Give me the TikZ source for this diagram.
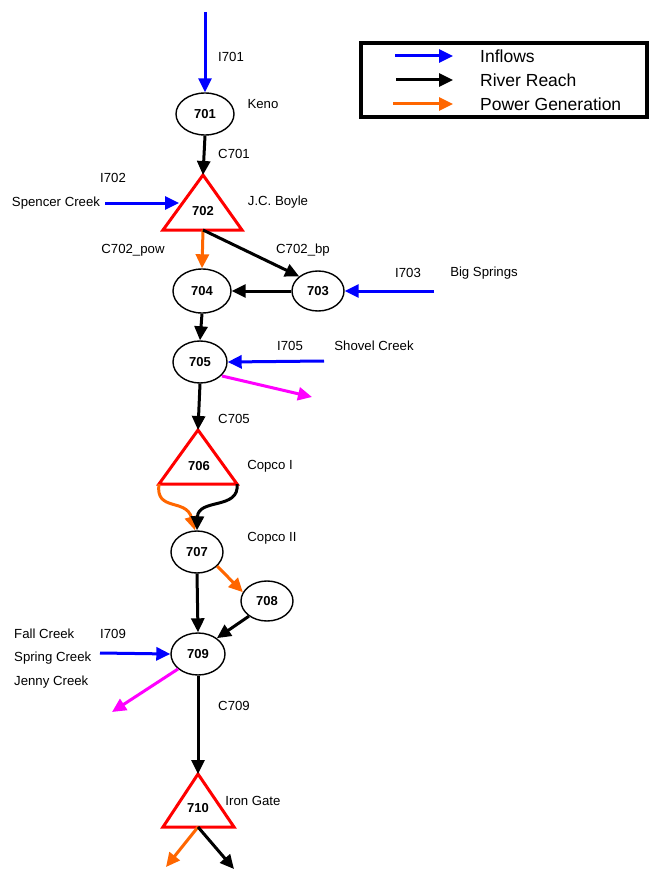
\documentclass[tikz,border=0pt]{standalone}
\usepackage{fontspec}
\setmainfont{Liberation Sans}
\usetikzlibrary{arrows.meta,shapes.geometric}
\definecolor{inblue}{RGB}{0,0,255}
\definecolor{pworange}{RGB}{255,102,0}
\definecolor{magent}{RGB}{255,0,255}
\begin{document}
\begin{tikzpicture}[x=1pt,y=-1pt,
  flow/.style={line width=3pt,-{Triangle[length=14pt,width=13pt]}},
  inflow/.style={flow,draw=inblue},
  reach/.style={flow,draw=black},
  power/.style={flow,draw=pworange},
  spill/.style={flow,draw=magent},
  res/.style={draw,line width=1.4pt,ellipse,inner sep=0pt,font=\fontsize{13}{15}\selectfont\bfseries},
  tri/.style={draw=red,line width=3pt,line join=miter},
  lab/.style={font=\fontsize{13.2}{15}\selectfont,inner sep=0pt},
  leg/.style={font=\fontsize{17.5}{20}\selectfont,inner sep=0pt,anchor=west}]
\useasboundingbox (0,0) rectangle (649,869);
% legend
\node[draw,line width=3.2pt,minimum width=286pt,minimum height=74pt,inner sep=0pt] (legend) at (504,80) {};
\coordinate (lb1) at (395,56); \coordinate (le1) at (453,56);
\coordinate (lb2) at (396,80); \coordinate (le2) at (453,80);
\coordinate (lb3) at (393,104); \coordinate (le3) at (453,104);
\draw[inflow] (lb1) -- (le1);
\draw[reach] (lb2) -- (le2);
\draw[power] (lb3) -- (le3);
\node[leg] (tInflows) at (480,56) {Inflows};
\node[leg] (tRiver) at (480,80) {River Reach};
\node[leg] (tPower) at (480,104) {Power Generation};
% nodes
\node[res,minimum width=58pt,minimum height=42pt] (n701) at (205,114) {701};
\node[res,minimum width=58pt,minimum height=44pt] (n704) at (202,291) {704};
\node[res,minimum width=52pt,minimum height=40pt] (n703) at (318,291) {703};
\node[res,minimum width=54pt,minimum height=42pt] (n705) at (200,362) {705};
\node[res,minimum width=52pt,minimum height=42pt] (n707) at (197,552) {707};
\node[res,minimum width=52pt,minimum height=40pt] (n708) at (267,601) {708};
\node[res,minimum width=54pt,minimum height=42pt] (n709) at (198,654) {709};
% triangles
\coordinate (t702a) at (203,175); \coordinate (t702l) at (163,230); \coordinate (t702r) at (242,230); \coordinate (t702b) at (203,230);
\draw[tri] (t702a) -- (t702l) -- (t702r) -- cycle;
\node[lab,font=\fontsize{13}{15}\selectfont\bfseries] (n702) at (203,211) {702};
\coordinate (t706a) at (198,430); \coordinate (t706l) at (159,484); \coordinate (t706r) at (237,484);
\draw[tri] (t706a) -- (t706l) -- (t706r) -- cycle;
\node[lab,font=\fontsize{13}{15}\selectfont\bfseries] (n706) at (199,466) {706};
\coordinate (t710a) at (198,774); \coordinate (t710l) at (163,827); \coordinate (t710r) at (234,827); \coordinate (t710b) at (198,827);
\draw[tri] (t710a) -- (t710l) -- (t710r) -- cycle;
\node[lab,font=\fontsize{13}{15}\selectfont\bfseries] (n710) at (198,808) {710};
% free ends
\coordinate (i701) at (205,12);
\coordinate (i702) at (105,203); \coordinate (i702e) at (179,203);
\coordinate (i703) at (434,291);
\coordinate (i705) at (324,361);
\coordinate (s705) at (222,376); \coordinate (s705e) at (312,397);
\coordinate (i709) at (100,653);
\coordinate (s709) at (178,669); \coordinate (s709e) at (112,712);
\coordinate (o710) at (166,867); \coordinate (r710) at (234,869);
% connectors
\draw[inflow] (i701) -- (n701.north);
\draw[reach] (n701.south) -- (t702a);
\draw[inflow] (i702) -- (i702e);
\draw[power] (t702b) -- (n704.north);
\draw[reach] (t702b) -- (n703.north west);
\draw[reach] (n703.west) -- (n704.east);
\draw[inflow] (i703) -- (n703.east);
\draw[reach] (n704.south) -- (n705.north);
\draw[inflow] (i705) -- (n705.east);
\draw[spill] (s705) -- (s705e);
\draw[reach] (n705.south) -- (t706a);
\draw[power] (t706l) .. controls (155,512) and (186,498) .. ([xshift=-2pt]n707.north);
\draw[reach] (t706r) .. controls (240,510) and (198,498) .. (n707.north);
\draw[power] (n707.-35) -- (n708.160);
\draw[reach] (n707.south) -- (n709.north);
\draw[reach] (n708.220) -- (n709.40);
\draw[inflow] (i709) -- (n709.west);
\draw[spill] (s709) -- (s709e);
\draw[reach] (n709.south) -- (t710a);
\draw[power] (t710b) -- (o710);
\draw[reach] (t710b) -- (r710);
% labels
\node[lab] (lI701) at (231,57) {I701};
\node[lab] (lKeno) at (263,104) {Keno};
\node[lab] (lC701) at (234,154) {C701};
\node[lab] (lI702) at (113,178) {I702};
\node[lab] (lSpencer) at (56,203) {Spencer Creek};
\node[lab] (lBoyle) at (278,202) {J.C. Boyle};
\node[lab] (lC702p) at (133,250) {C702\_pow};
\node[lab] (lC702b) at (303,250) {C702\_bp};
\node[lab] (lI703) at (408,273) {I703};
\node[lab] (lBig) at (484,273) {Big Springs};
\node[lab] (lI705) at (290,346) {I705};
\node[lab] (lShovel) at (374,346) {Shovel Creek};
\node[lab] (lC705) at (234,419) {C705};
\node[lab] (lCopco1) at (270,466) {Copco I};
\node[lab] (lCopco2) at (272,538) {Copco II};
\node[lab] (lI709) at (113,634) {I709};
\node[lab,anchor=west] (lFall) at (14,634) {Fall Creek};
\node[lab,anchor=west] (lSpring) at (14,658) {Spring Creek};
\node[lab,anchor=west] (lJenny) at (14,682) {Jenny Creek};
\node[lab] (lC709) at (234,706) {C709};
\node[lab] (lIron) at (253,801) {Iron Gate};
\end{tikzpicture}
\end{document}
